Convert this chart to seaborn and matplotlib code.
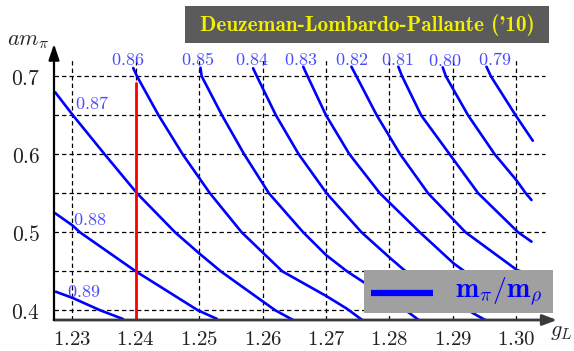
import numpy as np
import pandas as pd
import seaborn as sns
import matplotlib
matplotlib.use("Agg")
import matplotlib.pyplot as plt
from matplotlib.patches import Rectangle
from matplotlib.lines import Line2D

# ---------------- data ----------------
g_079 = [1.2953, 1.2960, 1.2999, 1.3026]
am_079 = [0.7123, 0.700, 0.650, 0.6174]
g_080 = [1.2884, 1.2889, 1.2924, 1.2966, 1.3000, 1.3015, 1.3024]
am_080 = [0.7115, 0.700, 0.650, 0.600, 0.567, 0.550, 0.5414]
g_081 = [1.2814, 1.2820, 1.2850, 1.2895, 1.2940, 1.3003, 1.3024]
am_081 = [0.7123, 0.700, 0.650, 0.600, 0.550, 0.500, 0.488]
g_082 = [1.2740, 1.2748, 1.2780, 1.2817, 1.2861, 1.2920, 1.3001, 1.3025]
am_082 = [0.7123, 0.700, 0.650, 0.600, 0.550, 0.500, 0.4517, 0.445]
g_083 = [1.2664, 1.2671, 1.2700, 1.2737, 1.2785, 1.2848, 1.2901, 1.2985]
am_083 = [0.7123, 0.700, 0.650, 0.600, 0.550, 0.500, 0.4603, 0.410]
g_084 = [1.2585, 1.2591, 1.2621, 1.2657, 1.2701, 1.2756, 1.2801, 1.2823, 1.2932, 1.2951]
am_084 = [0.7103, 0.700, 0.650, 0.600, 0.550, 0.500, 0.4671, 0.4517, 0.3962, 0.3876]
g_085 = [1.2502, 1.2504, 1.2536, 1.2571, 1.2610, 1.2664, 1.2700, 1.2733, 1.2762, 1.2832, 1.2846]
am_085 = [0.711, 0.700, 0.650, 0.600, 0.550, 0.500, 0.4709, 0.450, 0.4346, 0.3962, 0.3876]
g_086 = [1.2396, 1.2402, 1.2436, 1.2474, 1.2517, 1.2567, 1.2631, 1.2700, 1.2733, 1.2757]
am_086 = [0.7106, 0.700, 0.650, 0.600, 0.550, 0.500, 0.450, 0.4185, 0.4020, 0.3876]
g_087 = [1.2273, 1.2301, 1.2351, 1.2402, 1.2462, 1.2500, 1.2534, 1.2588, 1.2620, 1.2648]
am_087 = [0.6795, 0.650, 0.600, 0.550, 0.500, 0.4730, 0.450, 0.4185, 0.400, 0.3876]
g_088 = [1.2273, 1.2300, 1.2312, 1.2400, 1.2498, 1.2528]
am_088 = [0.5244, 0.509, 0.500, 0.450, 0.400, 0.389]
g_089 = [1.2274, 1.2300, 1.2344, 1.2380]
am_089 = [0.4238, 0.416, 0.400, 0.3888]

ratio_labels = ["0.79", "0.80", "0.81", "0.82", "0.83", "0.84", "0.85", "0.86", "0.87", "0.88", "0.89"]
red_g = 1.24
red_am = [0.3876, 0.6918]

xtick_vals = [1.23, 1.24, 1.25, 1.26, 1.27, 1.28, 1.29, 1.30]
xtick_labels = ["1.23", "1.24", "1.25", "1.26", "1.27", "1.28", "1.29", "1.30"]
ytick_vals = [0.4, 0.5, 0.6, 0.7]
ytick_labels = ["0.4", "0.5", "0.6", "0.7"]
hgrid_vals = [0.40, 0.45, 0.50, 0.55, 0.60, 0.65, 0.70]

curves = [(g_079, am_079), (g_080, am_080), (g_081, am_081), (g_082, am_082),
          (g_083, am_083), (g_084, am_084), (g_085, am_085), (g_086, am_086),
          (g_087, am_087), (g_088, am_088), (g_089, am_089)]
frames = []
for lab, (gg, aa) in zip(ratio_labels, curves):
    frames.append(pd.DataFrame({"g": gg, "am": aa, "ratio": lab}))
df = pd.concat(frames, ignore_index=True)

# ---------------- style ----------------
sns.set_style("white")
plt.rcParams["font.family"] = ["DejaVu Serif", "DejaVu Sans"]
plt.rcParams["mathtext.fontset"] = "cm"

W, H = 574, 351
fig = plt.figure(figsize=(W / 100, H / 100), dpi=100)
ax = fig.add_axes([54 / W, (H - 320) / H, 503 / W, 276 / H])
ax.set_xlim(1.22711, 1.30642)
ax.set_ylim(0.38756, 0.74141)

# grid
for yv in hgrid_vals:
    ax.plot([1.22711, 1.3045], [yv, yv], color="black", lw=0.9,
            ls=(0, (3.5, 2.5)), zorder=1)
for xv in xtick_vals:
    ax.plot([xv, xv], [0.38756, 0.7209], color="black", lw=0.9,
            ls=(0, (3.5, 2.5)), zorder=1)

sns.lineplot(data=df, x="g", y="am", units="ratio", estimator=None, sort=False,
             color="#0000ff", lw=1.9, ax=ax, zorder=3, legend=False)
for ln in ax.lines:
    ln.set_solid_joinstyle("round")

ax.plot([red_g, red_g], red_am, color="#ff0000", lw=2.0, zorder=4)

# curve labels
lab_top_g = {"0.86": 1.23878, "0.85": 1.24974, "0.84": 1.25833, "0.83": 1.26606,
             "0.82": 1.27410, "0.81": 1.28119, "0.80": 1.28876, "0.79": 1.29665}
for lab, gx in lab_top_g.items():
    yy = 0.7196 if lab == "0.80" else 0.7209
    ax.text(gx, yy, f"${lab}$", color="#4a4aff", fontsize=13, ha="center",
            va="center", zorder=5)
lab_left = {"0.87": (1.23312, 0.6645), "0.88": (1.23279, 0.5158), "0.89": (1.23184, 0.4235)}
for lab, (gx, yy) in lab_left.items():
    ax.text(gx, yy, f"${lab}$", color="#4a4aff", fontsize=13, ha="center",
            va="center", zorder=5)

# axes / ticks
ax.set_xticks(xtick_vals)
ax.set_xticklabels([f"${t}$" for t in xtick_labels], fontsize=15)
ax.set_yticks(ytick_vals)
ax.set_yticklabels([f"${t}$" for t in ytick_labels], fontsize=15.5)
ax.tick_params(axis="both", length=0, colors="#222222")
ax.tick_params(axis="x", pad=7.5)
ax.tick_params(axis="y", pad=10)
ax.set_xlabel("")
ax.set_ylabel("")
for s in ax.spines.values():
    s.set_visible(False)

ax.annotate("", xy=(1.0, 0.0), xytext=(0.0, 0.0), xycoords="axes fraction",
            arrowprops=dict(arrowstyle="-|>,head_length=0.85,head_width=0.32",
                            color="#3a3a3a", lw=2.0, shrinkA=0, shrinkB=0,
                            mutation_scale=10), zorder=6)
ax.annotate("", xy=(0.0, 1.0), xytext=(0.0, 0.0), xycoords="axes fraction",
            arrowprops=dict(arrowstyle="-|>,head_length=0.95,head_width=0.32",
                            color="black", lw=1.6, shrinkA=0, shrinkB=0,
                            mutation_scale=10), zorder=6)

fig.text(28 / W, 1 - 40 / H, r"$am_\pi$", fontsize=16, ha="center", va="center")
fig.text(561 / W, 1 - 331 / H, r"$g_L$", fontsize=16, ha="center", va="center")

# title box
fig.patches.append(Rectangle((185 / W, 1 - 43 / H), (549 - 185) / W, 37 / H,
                             transform=fig.transFigure, facecolor="#5b5b5b",
                             edgecolor="none", zorder=10))
fig.text(367 / W, 1 - 25.5 / H, "Deuzeman-Lombardo-Pallante ('10)",
         fontsize=15.3, family=["cmb10", "DejaVu Serif"],
         color="#f2f200", ha="center", va="center", zorder=11)

# legend box
fig.patches.append(Rectangle((364 / W, 1 - 313 / H), (553 - 364) / W, 43 / H,
                             transform=fig.transFigure, facecolor="#a0a0a0",
                             edgecolor="none", zorder=10))
fig.lines.append(Line2D([371 / W, 433 / W], [1 - 292.5 / H, 1 - 292.5 / H],
                        transform=fig.transFigure, color="#0000ff", lw=4.5,
                        solid_capstyle="butt", zorder=11))
fig.text(498.5 / W, 1 - 292 / H, r"$\mathbf{m_\pi/m_\rho}$", fontsize=20,
         color="#0000ff", ha="center", va="center", zorder=11)

fig.savefig("out.png", dpi=100)
